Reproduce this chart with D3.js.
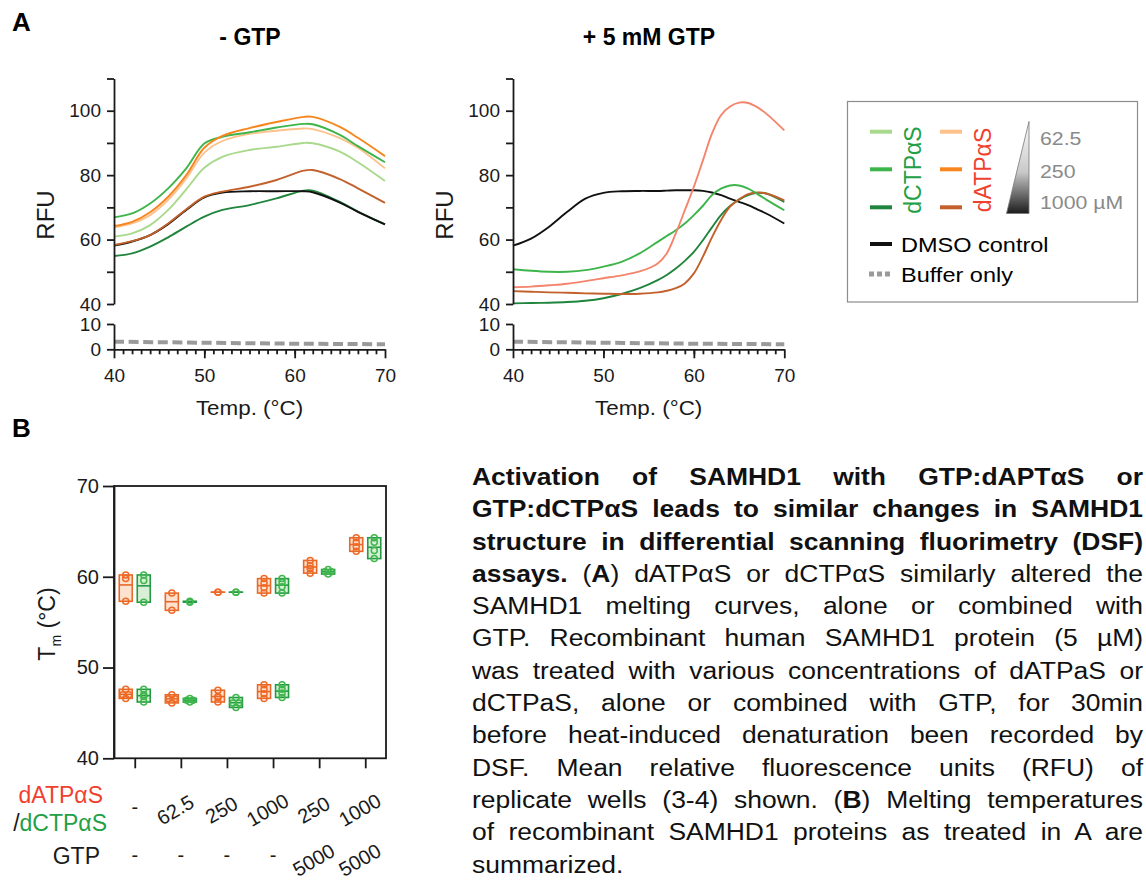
<!DOCTYPE html>
<html>
<head>
<meta charset="utf-8">
<script src="https://cdn.jsdelivr.net/npm/d3@7"></script>
<style>
  body { margin: 0; background: #fff; }
  #fig { position: relative; width: 1146px; height: 886px; overflow: hidden; }
  #fig svg { position: absolute; left: 0; top: 0; font-family: "Liberation Sans", Arial, sans-serif; }
  #caption { position: absolute; left: 472px; top: 461px; width: 583.5px;
    transform: scaleX(1.15); transform-origin: 0 0;
    font-family: "Liberation Sans", Arial, sans-serif;
    font-size: 23px; line-height: 32.3px; color: #111; }
  #caption div { text-align: justify; text-align-last: justify; white-space: nowrap; }
  #caption div.last { text-align-last: left; }
</style>
</head>
<body>
<div id="fig">
  <svg id="chart" width="1146" height="886"></svg>
  <div id="caption"></div>
</div>
<script>
// ---- panel A, - GTP (RFU per temperature)
const tempsNoGtp = [40, 42, 44, 46, 48, 50, 52, 55, 58, 61, 62, 65, 67, 70];
const noGtpDctp62 = [60.9, 61.9, 64.5, 69.2, 75.6, 82.3, 85.7, 87.8, 88.8, 90.0, 89.9, 87.3, 84.0, 78.2];
const noGtpDctp250 = [66.9, 68.1, 71.2, 75.9, 82.1, 89.8, 91.9, 93.3, 94.8, 95.9, 95.8, 92.5, 89.0, 84.0];
const noGtpDctp1000 = [54.9, 55.7, 57.8, 60.7, 64.0, 67.1, 69.2, 70.7, 72.8, 75.2, 75.2, 71.7, 68.7, 64.7];
const noGtpDatp62 = [63.8, 65.0, 67.6, 72.3, 79.0, 87.0, 90.6, 92.8, 93.8, 94.5, 94.3, 91.5, 88.5, 82.1];
const noGtpDatp250 = [64.2, 65.5, 68.5, 73.3, 80.0, 88.5, 92.2, 94.6, 96.5, 98.1, 98.1, 95.0, 91.6, 85.9];
const noGtpDatp1000 = [58.3, 59.5, 61.4, 65.0, 69.4, 73.3, 74.9, 76.4, 78.5, 81.4, 81.6, 78.8, 75.9, 71.4];
const noGtpDmso = [58.1, 59.4, 61.4, 64.8, 69.2, 73.1, 74.6, 75.0, 75.0, 75.0, 74.7, 71.5, 68.6, 64.7];

// ---- panel A, + 5 mM GTP
const tempsGtp = [40, 42, 44, 46, 48, 50, 52, 54, 56, 57, 58, 59, 60, 61, 62, 63, 64, 65, 66, 67, 68, 70];
const gtpDmso = [58.1, 60.3, 64.0, 68.6, 72.7, 74.5, 75.0, 75.1, 75.1, 75.2, 75.3, 75.3, 75.3, 75.1, 74.6, 73.8, 72.7, 71.7, 70.7, 69.4, 68.1, 65.0];
const gtpDctp250 = [50.8, 50.3, 50.0, 50.0, 50.5, 51.6, 53.1, 55.7, 59.3, 61.1, 62.9, 65.0, 67.6, 70.5, 73.8, 75.8, 76.8, 76.8, 75.8, 74.2, 72.4, 69.1];
const gtpDatp250 = [45.2, 45.4, 45.8, 46.3, 47.1, 48.0, 48.9, 50.1, 52.6, 55.7, 61.9, 69.1, 76.4, 84.6, 92.9, 98.6, 101.3, 102.5, 102.4, 101.1, 99.1, 93.9];
const gtpDctp1000 = [40.2, 40.3, 40.4, 40.6, 41.0, 41.8, 43.1, 44.9, 47.4, 49.0, 51.0, 53.4, 56.2, 59.8, 63.8, 67.6, 70.4, 72.4, 73.8, 74.5, 74.3, 71.7];
const gtpDatp1000 = [44.0, 43.8, 43.6, 43.5, 43.3, 43.2, 43.1, 43.2, 43.6, 44.1, 44.9, 46.4, 49.5, 54.7, 60.7, 66.0, 70.2, 72.5, 74.1, 74.6, 74.3, 72.2];

const bufferTemps = [40, 50, 60, 70];
const bufferRfu = [3.0, 2.6, 2.2, 2.0];

const concLabels = ["62.5", "250", "1000 µM"];

// ---- panel B, melting temperatures (°C)
const tmCompound = ["-", "62.5", "250", "1000", "250", "1000"];
const tmGtp = ["-", "-", "-", "-", "5000", "5000"];
const tmDatpHigh = [[60.2, 59.8, 57.3], [58.2, 56.3], [58.3, 58.3], [59.8, 59.3, 58.8, 58.2], [61.8, 61.2, 60.9, 60.4], [64.3, 63.8, 63.3, 62.8]];
const tmDctpHigh = [[60.2, 59.6, 57.2], [57.3, 57.2], [58.3, 58.3], [59.8, 59.4, 58.9, 58.2], [60.8, 60.55, 60.55, 60.3], [64.3, 63.8, 62.9, 62.0]];
const tmDatpLow = [[47.6, 47.0, 47.0, 46.6], [47.0, 46.55, 46.55, 46.1], [47.5, 46.8, 46.7, 46.2], [48.1, 47.6, 47.1, 46.6], null, null];
const tmDctpLow = [[47.6, 47.0, 46.8, 46.2], [46.6, 46.4, 46.4, 46.2], [46.7, 46.1, 46.1, 45.6], [48.1, 47.6, 47.2, 46.7], null, null];

const captionLines = [
  [["b", "Activation of SAMHD1 with GTP:dAPTαS or"]],
  [["b", "GTP:dCTPαS leads to similar changes in SAMHD1"]],
  [["b", "structure in differential scanning fluorimetry (DSF)"]],
  [["b", "assays."], ["n", " ("], ["b", "A"], ["n", ") dATPαS or dCTPαS similarly altered the"]],
  [["n", "SAMHD1 melting curves, alone or combined with"]],
  [["n", "GTP. Recombinant human SAMHD1 protein (5 µM)"]],
  [["n", "was treated with various concentrations of dATPaS or"]],
  [["n", "dCTPaS, alone or combined with GTP, for 30min"]],
  [["n", "before heat-induced denaturation been recorded by"]],
  [["n", "DSF. Mean relative fluorescence units (RFU) of"]],
  [["n", "replicate wells (3-4) shown. ("], ["b", "B"], ["n", ") Melting temperatures"]],
  [["n", "of recombinant SAMHD1 proteins as treated in A are"]],
  [["n", "summarized."]]
];

const col = {
  dctp62: "#a9d98d", dctp250: "#3db54b", dctp1000: "#1f843c",
  datp62: "#fdc18c", datp250: "#f7861f", datp1000: "#c2612b",
  salmon: "#f5846c", dmso: "#111", buffer: "#9a9a9a",
  green: "#22a045", red: "#f0412f"
};

const svg = d3.select("#chart");
const axisStroke = 1.8;
const wide = 1.12; // the source figure's lettering is a bit wider than Arial

function styleAxis(g, size) {
  g.selectAll("path, line").attr("stroke", "#1a1a1a").attr("stroke-width", axisStroke);
  g.selectAll("text").attr("fill", "#1a1a1a").style("font-size", size + "px");
}

// horizontal text, slightly widened
function wText(g, x, y, size, str) {
  return g.append("text")
    .attr("transform", `translate(${x},${y}) scale(${wide},1)`)
    .style("font-size", size + "px").attr("fill", "#1a1a1a").text(str);
}

// ---------- panel A ----------
function curvePanel(opt) {
  const x = d3.scaleLinear().domain([40, 70]).range([opt.left, opt.right]);
  const yTop = d3.scaleLinear().domain([40, 110]).range([304, 78.5]);
  const yBot = d3.scaleLinear().domain([0, 10]).range([349.3, 324]);
  const g = svg.append("g");

  const line = d3.line().x(d => x(d[0])).y(d => yTop(d[1])).curve(d3.curveCatmullRom.alpha(0.5));
  opt.series.forEach(s => {
    g.append("path")
      .datum(opt.temps.map((t, i) => [t, s.values[i]]))
      .attr("d", line)
      .attr("fill", "none")
      .attr("stroke", s.color)
      .attr("stroke-width", 1.9);
  });

  const lineBot = d3.line().x(d => x(d[0])).y(d => yBot(d[1]));
  g.append("path")
    .datum(bufferTemps.map((t, i) => [t, bufferRfu[i]]))
    .attr("d", lineBot)
    .attr("fill", "none")
    .attr("stroke", col.buffer)
    .attr("stroke-width", 4)
    .attr("stroke-dasharray", "10 4.6");

  // y axis, upper part
  const ay = g.append("g")
    .attr("transform", `translate(${opt.left},0)`)
    .call(d3.axisLeft(yTop).tickValues(d3.range(40, 111, 10)).tickSize(7).tickSizeOuter(0).tickPadding(6)
      .tickFormat(d => (d % 20 === 0 && d <= 100) ? d : ""));
  styleAxis(ay, 19);

  // y axis, lower part
  const ay2 = g.append("g")
    .attr("transform", `translate(${opt.left},0)`)
    .call(d3.axisLeft(yBot).tickValues([0, 10]).tickSize(7).tickSizeOuter(0).tickPadding(6));
  styleAxis(ay2, 19);

  // x axis with minor ticks
  const axMinor = g.append("g")
    .attr("transform", `translate(0,${yBot(0)})`)
    .call(d3.axisBottom(x).tickValues(d3.range(41, 70)).tickSize(5).tickFormat(""));
  axMinor.select(".domain").remove();
  styleAxis(axMinor, 19);
  const ax = g.append("g")
    .attr("transform", `translate(0,${yBot(0)})`)
    .call(d3.axisBottom(x).tickValues([40, 50, 60, 70]).tickSize(9).tickSizeOuter(0).tickPadding(10));
  styleAxis(ax, 19);

  wText(g, (opt.left + opt.right) / 2, 415, 20, "Temp. (°C)").attr("text-anchor", "middle");
  g.append("text")
    .attr("transform", `translate(${opt.left - 60},215) rotate(-90)`)
    .attr("text-anchor", "middle").style("font-size", "24px").attr("fill", "#1a1a1a")
    .text("RFU");
  g.append("text")
    .attr("x", opt.titleX).attr("y", 45)
    .attr("text-anchor", "middle").style("font-size", "23px").style("font-weight", "bold")
    .text(opt.title);
}

curvePanel({
  left: 114, right: 385, title: "- GTP", titleX: 250, temps: tempsNoGtp,
  series: [
    { values: noGtpDctp62, color: col.dctp62 },
    { values: noGtpDatp62, color: col.datp62 },
    { values: noGtpDctp1000, color: col.dctp1000 },
    { values: noGtpDmso, color: col.dmso },
    { values: noGtpDatp1000, color: col.datp1000 },
    { values: noGtpDctp250, color: col.dctp250 },
    { values: noGtpDatp250, color: col.datp250 }
  ]
});

curvePanel({
  left: 513, right: 784.3, title: "+ 5 mM GTP", titleX: 649, temps: tempsGtp,
  series: [
    { values: gtpDmso, color: col.dmso },
    { values: gtpDctp1000, color: col.dctp1000 },
    { values: gtpDatp1000, color: col.datp1000 },
    { values: gtpDctp250, color: col.dctp250 },
    { values: gtpDatp250, color: col.salmon }
  ]
});

svg.append("text").attr("x", 12).attr("y", 31)
  .style("font-size", "26px").style("font-weight", "bold").text("A");
svg.append("text").attr("x", 12).attr("y", 437)
  .style("font-size", "26px").style("font-weight", "bold").text("B");

// ---------- legend ----------
const leg = svg.append("g");
leg.append("rect").attr("x", 847.5).attr("y", 101.5).attr("width", 290).attr("height", 200.5)
  .attr("fill", "#fff").attr("stroke", "#8c8c8c").attr("stroke-width", 1.2);
const legRows = [131.7, 169.3, 207.3];
[[col.dctp62, col.dctp250, col.dctp1000], [col.datp62, col.datp250, col.datp1000]].forEach((cs, k) => {
  leg.selectAll(null).data(cs).join("line")
    .attr("x1", 870 + k * 70).attr("x2", 892 + k * 70)
    .attr("y1", (d, i) => legRows[i]).attr("y2", (d, i) => legRows[i])
    .attr("stroke", d => d).attr("stroke-width", 4);
});
leg.append("text").attr("transform", "translate(921,170) rotate(-90)")
  .attr("text-anchor", "middle").style("font-size", "23px").attr("fill", col.green).text("dCTPαS");
leg.append("text").attr("transform", "translate(991,170) rotate(-90)")
  .attr("text-anchor", "middle").style("font-size", "23px").attr("fill", col.red).text("dATPαS");

const grad = svg.append("defs").append("linearGradient")
  .attr("id", "tri").attr("x1", 0).attr("y1", 0).attr("x2", 0).attr("y2", 1);
grad.append("stop").attr("offset", "0%").attr("stop-color", "#fbfbfb");
grad.append("stop").attr("offset", "55%").attr("stop-color", "#c9c9c9");
grad.append("stop").attr("offset", "100%").attr("stop-color", "#1c1c1c");
leg.append("polygon").attr("points", "1029,121.5 1006.5,213.5 1029,213.5")
  .attr("fill", "url(#tri)").attr("stroke", "#777").attr("stroke-width", 0.8);
concLabels.forEach((d, i) => {
  wText(leg, 1040, [145, 178, 209][i], 19, d).attr("fill", "#8a8a8a");
});

leg.append("line").attr("x1", 870).attr("x2", 892).attr("y1", 244).attr("y2", 244)
  .attr("stroke", col.dmso).attr("stroke-width", 4);
wText(leg, 901, 252, 21, "DMSO control").attr("fill", "#000");
leg.append("line").attr("x1", 869).attr("x2", 892).attr("y1", 274).attr("y2", 274)
  .attr("stroke", col.buffer).attr("stroke-width", 5).attr("stroke-dasharray", "5 3");
wText(leg, 901, 282, 21, "Buffer only").attr("fill", "#000");

// ---------- panel B ----------
const bL = 114, bR = 386, bT = 486, bB = 758.3;
const xB = d3.scalePoint().domain(d3.range(tmCompound.length)).range([bL, bR]).padding(0.45);
const yB = d3.scaleLinear().domain([40, 70]).range([bB, bT]);
const gB = svg.append("g");

const orange = { stroke: "#e8682a", fill: "#fde3cf", dot: "#ef6a26" };
const green = { stroke: "#259a45", fill: "#d8eed6", dot: "#3fb74c" };

function floatingBar(vals, cx, c) {
  if (!vals) return;
  const lo = d3.min(vals), hi = d3.max(vals), mean = d3.mean(vals);
  const w = 13;
  gB.append("rect").attr("x", cx - w / 2).attr("y", yB(hi)).attr("width", w)
    .attr("height", Math.max(0.01, yB(lo) - yB(hi)))
    .attr("fill", c.fill).attr("stroke", c.stroke).attr("stroke-width", 1.6);
  gB.append("line").attr("x1", cx - w / 2).attr("x2", cx + w / 2)
    .attr("y1", yB(mean)).attr("y2", yB(mean)).attr("stroke", c.stroke).attr("stroke-width", 1.6);
  // side-by-side placement of tied replicates
  const ys = vals.map(v => yB(v)).sort((a, b) => a - b);
  const spread = ys[ys.length - 1] - ys[0];
  const pts = [];
  let i = 0;
  while (i < ys.length) {
    let j = i;
    while (j + 1 < ys.length && ys[j + 1] - ys[j] < 0.8) j++;
    const n = j - i + 1;
    for (let k = i; k <= j; k++) {
      const off = (spread > 3 && n > 1) ? (k - i - (n - 1) / 2) * 6 : 0;
      pts.push([cx + off, ys[k]]);
    }
    i = j + 1;
  }
  gB.selectAll(null).data(pts).join("circle")
    .attr("cx", d => d[0]).attr("cy", d => d[1]).attr("r", 3)
    .attr("fill", "none").attr("stroke", c.dot).attr("stroke-width", 1.5);
}

tmCompound.forEach((_, i) => {
  floatingBar(tmDatpHigh[i], xB(i) - 9, orange);
  floatingBar(tmDctpHigh[i], xB(i) + 9, green);
  floatingBar(tmDatpLow[i], xB(i) - 9, orange);
  floatingBar(tmDctpLow[i], xB(i) + 9, green);
});

gB.append("rect").attr("x", bL).attr("y", bT).attr("width", bR - bL).attr("height", bB - bT)
  .attr("fill", "none").attr("stroke", "#1a1a1a").attr("stroke-width", axisStroke);
const ayB = gB.append("g").attr("transform", `translate(${bL},0)`)
  .call(d3.axisLeft(yB).tickValues([40, 50, 60, 70]).tickSize(11).tickSizeOuter(0).tickPadding(4));
styleAxis(ayB, 20);
const axB = gB.append("g").attr("transform", `translate(0,${bB})`)
  .call(d3.axisBottom(xB).tickSize(10).tickSizeOuter(0).tickFormat(""));
axB.select(".domain").remove();
styleAxis(axB, 20);

gB.selectAll(null).data(tmCompound).join("text")
  .attr("transform", (d, i) => d === "-" ? `translate(${xB(i)},814)` : `translate(${xB(i) - 2},816) rotate(-30)`)
  .attr("text-anchor", "middle").style("font-size", "20px").attr("fill", "#1a1a1a").text(d => d);
gB.selectAll(null).data(tmGtp).join("text")
  .attr("transform", (d, i) => d === "-" ? `translate(${xB(i)},862)` : `translate(${xB(i) - 2},866) rotate(-30)`)
  .attr("text-anchor", "middle").style("font-size", "20px").attr("fill", "#1a1a1a").text(d => d);

gB.append("text").attr("x", 103).attr("y", 803).attr("text-anchor", "end")
  .style("font-size", "23px").attr("fill", col.red).text("dATPαS");
const t2 = gB.append("text").attr("x", 107).attr("y", 831).attr("text-anchor", "end").style("font-size", "23px");
t2.append("tspan").attr("fill", "#1a1a1a").text("/");
t2.append("tspan").attr("fill", col.green).text("dCTPαS");
gB.append("text").attr("x", 100).attr("y", 864).attr("text-anchor", "end")
  .style("font-size", "23px").attr("fill", "#1a1a1a").text("GTP");

const tm = gB.append("text").attr("transform", "translate(55,624) rotate(-90)")
  .attr("text-anchor", "middle").style("font-size", "23px").attr("fill", "#1a1a1a");
tm.append("tspan").text("T");
tm.append("tspan").attr("dy", 6).style("font-size", "14px").text("m");
tm.append("tspan").attr("dy", -6).text(" (°C)");

// ---------- caption ----------
d3.select("#caption").selectAll("div").data(captionLines).join("div")
  .attr("class", (d, i) => i === captionLines.length - 1 ? "last" : null)
  .selectAll("span").data(d => d).join("span")
  .style("font-weight", d => d[0] === "b" ? "bold" : null)
  .text(d => d[1]);
</script>
</body>
</html>
